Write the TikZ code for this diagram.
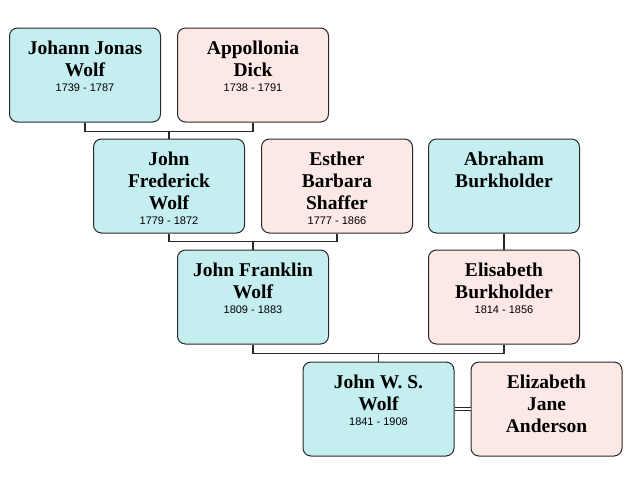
\documentclass[tikz,border=0pt]{standalone}
\usepackage{fontspec}
\setmainfont{Liberation Serif}
\newfontfamily\datesfont{Liberation Sans}
\usetikzlibrary{calc}
\definecolor{malec}{RGB}{197,238,240}
\definecolor{femalec}{RGB}{252,232,228}
\definecolor{linec}{RGB}{40,40,40}
\newcommand{\yrs}[1]{\\[-7pt]{\datesfont\mdseries\fontsize{11}{13}\selectfont #1}}
\begin{document}
\begin{tikzpicture}[x=1pt,y=-1pt,
  person/.style={draw=linec, line width=1pt, rounded corners=8pt, minimum width=151pt, minimum height=94pt, inner sep=0pt},
  male/.style={person, fill=malec},
  female/.style={person, fill=femalec},
  nametext/.style={anchor=north, align=center, inner sep=0pt, text=black, font=\bfseries\fontsize{19.5}{22}\selectfont},
  link/.style={draw=linec, line width=1.1pt}]
\useasboundingbox (0,0) rectangle (640,477);
% boxes
\node[male]   (jj) at (85,75)   {};
\node[female] (ad) at (253,75)  {};
\node[male]   (jf) at (169,186) {};
\node[female] (es) at (337,186) {};
\node[male]   (ab) at (504,186) {};
\node[male]   (jk) at (253,297) {};
\node[female] (eb) at (504,297) {};
\node[male]   (jw) at (378.5,409) {};
\node[female] (ej) at (546.5,409) {};
% texts
\node[nametext] (tjj) at ($(jj.north)+(0,13.5)$) {Johann Jonas\\Wolf\yrs{1739 - 1787}};
\node[nametext] (tad) at ($(ad.north)+(0,13.5)$) {Appollonia\\Dick\yrs{1738 - 1791}};
\node[nametext] (tjf) at ($(jf.north)+(0,13.5)$) {John\\Frederick\\Wolf\yrs{1779 - 1872}};
\node[nametext] (tes) at ($(es.north)+(0,13.5)$) {Esther\\Barbara\\Shaffer\yrs{1777 - 1866}};
\node[nametext] (tab) at ($(ab.north)+(0,13.5)$) {Abraham\\Burkholder};
\node[nametext] (tjk) at ($(jk.north)+(0,13.5)$) {John Franklin\\Wolf\yrs{1809 - 1883}};
\node[nametext] (teb) at ($(eb.north)+(0,13.5)$) {Elisabeth\\Burkholder\yrs{1814 - 1856}};
\node[nametext] (tjw) at ($(jw.north)+(0,13.5)$) {John W. S.\\Wolf\yrs{1841 - 1908}};
\node[nametext] (tej) at ($(ej.north)+(0,13.5)$) {Elizabeth\\Jane\\Anderson};
% connectors
\coordinate (m1) at ($(jj.south)!0.5!(ad.south)+(0,9)$);
\draw[link] (jj.south) |- (m1) -| (ad.south);
\draw[link] (m1) -- (jf.north);
\coordinate (m2) at ($(jf.south)!0.5!(es.south)+(0,8)$);
\draw[link] (jf.south) |- (m2) -| (es.south);
\draw[link] (m2) -- (jk.north);
\draw[link] (ab.south) -- (eb.north);
\coordinate (m3) at ($(jk.south)!0.5!(eb.south)+(0,9)$);
\draw[link] (jk.south) |- (m3) -| (eb.south);
\draw[link] (m3) -- (jw.north);
\draw[draw=linec, line width=0.9pt, double=white, double distance=2.6pt] (jw.east) -- (ej.west);
\end{tikzpicture}
\end{document}
